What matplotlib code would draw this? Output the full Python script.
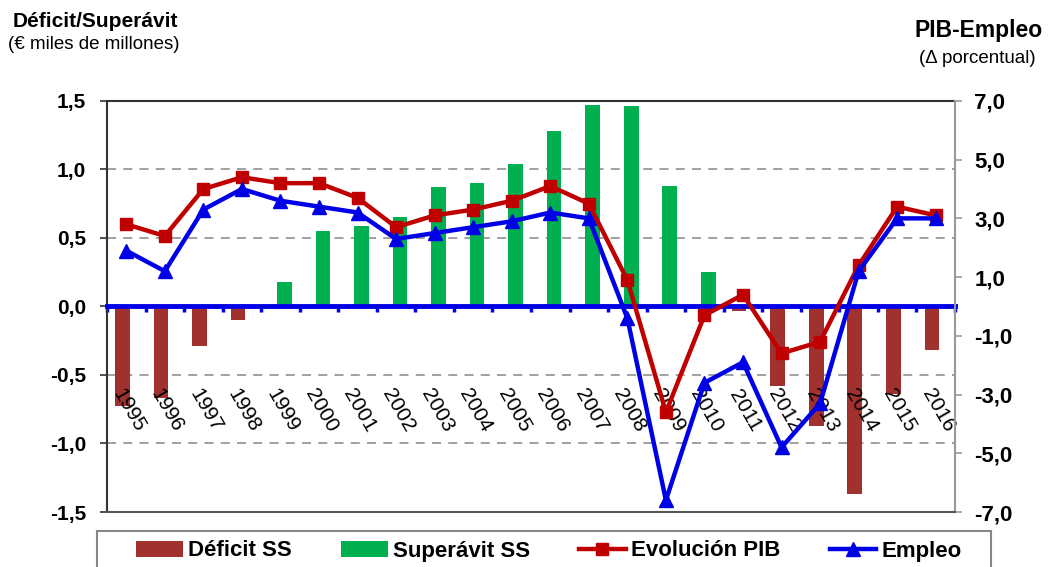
import matplotlib
matplotlib.use('Agg')
import matplotlib.pyplot as plt
from matplotlib.ticker import FixedLocator, FuncFormatter
from matplotlib.patches import Rectangle
import numpy as np

plt.rcParams['font.family'] = ['Liberation Sans', 'DejaVu Sans']

years = ['1995', '1996', '1997', '1998', '1999', '2000', '2001', '2002', '2003', '2004', '2005',
         '2006', '2007', '2008', '2009', '2010', '2011', '2012', '2013', '2014', '2015', '2016']
deficit = [-0.73, -0.67, -0.29, -0.10, 0, 0, 0, 0, 0, 0, 0,
           0, 0, 0, 0, 0, -0.03, -0.58, -0.87, -1.37, -0.64, -0.32]
superavit = [0, 0, 0, 0, 0.18, 0.55, 0.59, 0.65, 0.87, 0.90, 1.04,
             1.28, 1.47, 1.46, 0.88, 0.25, 0, 0, 0, 0, 0, 0]
pib = [2.8, 2.4, 4.0, 4.4, 4.2, 4.2, 3.7, 2.7, 3.1, 3.3, 3.6,
       4.1, 3.5, 0.9, -3.6, -0.3, 0.4, -1.6, -1.2, 1.4, 3.4, 3.1]
empleo = [1.9, 1.2, 3.3, 4.0, 3.6, 3.4, 3.2, 2.3, 2.5, 2.7, 2.9,
          3.2, 3.0, -0.4, -6.6, -2.6, -1.9, -4.8, -3.3, 1.2, 3.0, 3.0]

x = np.arange(len(years))
brown = '#A0312F'
green = '#00B050'
red = '#C00000'
blue = '#0000E6'

fig = plt.figure(figsize=(10.52, 5.67), dpi=100)
ax1 = fig.add_axes([0.1017, 0.097, 0.8061, 0.725])
ax2 = ax1.twinx()

ax1.bar(x - 0.1, deficit, width=0.38, color=brown, label='Déficit SS', zorder=2)
ax1.bar(x + 0.1, superavit, width=0.38, color=green, label='Superávit SS', zorder=2)

for yv in [-1.0, -0.5, 0.5, 1.0]:
    ax1.axhline(yv, color='#999999', lw=1.3, ls=(0, (5, 4)), zorder=1)

ax1.set_xlim(-0.5, len(years) - 0.5)
ax1.set_ylim(-1.5, 1.5)
ax1.set_yticks([-1.5, -1.0, -0.5, 0.0, 0.5, 1.0, 1.5])
ax1.yaxis.set_major_formatter(FuncFormatter(lambda v, p: ('%.1f' % v).replace('.', ',')))
ax1.tick_params(axis='y', labelsize=15, length=5, width=1.2, color='#333333', pad=10)
for t in ax1.get_yticklabels():
    t.set_fontweight('bold')

# blue zero axis with ticks at category boundaries
ax1.spines['bottom'].set_position(('data', 0))
ax1.spines['bottom'].set_color(blue)
ax1.spines['bottom'].set_linewidth(3.5)
ax1.spines['bottom'].set_zorder(5)
ax1.xaxis.set_major_locator(FixedLocator(np.arange(-0.5, len(years), 1.0)))
ax1.tick_params(axis='x', length=4, width=2.5, color=blue, labelbottom=False)
ax1.spines['left'].set_color('#333333')
ax1.spines['left'].set_linewidth(1.5)
ax1.spines['top'].set_color('#333333')
ax1.spines['top'].set_linewidth(1.5)
ax1.spines['right'].set_visible(False)

ax2.plot(x, pib, color=red, lw=3.2, marker='s', markersize=8, label='Evolución PIB', zorder=4)
ax2.plot(x, empleo, color=blue, lw=3.2, marker='^', markersize=10, label='Empleo', zorder=4)
ax2.set_ylim(-7, 7)
ax2.set_yticks([-7, -5, -3, -1, 1, 3, 5, 7])
ax2.yaxis.set_major_formatter(FuncFormatter(lambda v, p: ('%.1f' % v).replace('.', ',')))
ax2.tick_params(axis='y', labelsize=16, length=5, width=1.2, color='#999999', pad=9)
for t in ax2.get_yticklabels():
    t.set_fontweight('bold')
ax2.spines['right'].set_color('#999999')
ax2.spines['right'].set_linewidth(1.5)
ax2.spines['bottom'].set_color('#555555')
ax2.spines['bottom'].set_linewidth(1.5)
ax2.spines['left'].set_visible(False)
ax2.spines['top'].set_visible(False)

ax1.set_zorder(ax2.get_zorder() - 1)
ax2.patch.set_visible(False)

for i, yr in enumerate(years):
    ax1.text(i + 0.06, -0.76, yr, rotation=-60, ha='center', va='center',
             fontsize=15, zorder=3)

fig.text(0.012, 0.979, 'Déficit/Superávit', fontsize=15, fontweight='bold', va='top')
fig.text(0.008, 0.937, '(€ miles de millones)', fontsize=13.5, va='top')
fig.text(0.991, 0.966, 'PIB-Empleo', fontsize=16.5, fontweight='bold', va='top', ha='right')
fig.text(0.984, 0.912, '(Δ porcentual)', fontsize=13.5, va='top', ha='right')

# legend box (bottom edge falls off the figure, as in the reference)
fig.patches.append(Rectangle((97 / 1052, -0.05), (991 - 97) / 1052, 0.05 + 1 - 531 / 567,
                             transform=fig.transFigure, facecolor='white',
                             edgecolor='#888888', lw=1.5))

h1, l1 = ax1.get_legend_handles_labels()
h2, l2 = ax2.get_legend_handles_labels()
leg = fig.legend(h1 + h2, l1 + l2, loc='center left', ncol=4, mode='expand',
                 bbox_to_anchor=(136 / 1052, 1 - 551 / 567, (962 - 136) / 1052, 0),
                 frameon=False, borderpad=0, borderaxespad=0,
                 handlelength=2.1, handletextpad=0.25,
                 prop={'weight': 'bold', 'size': 16})

fig.savefig('out.png', dpi=100)
